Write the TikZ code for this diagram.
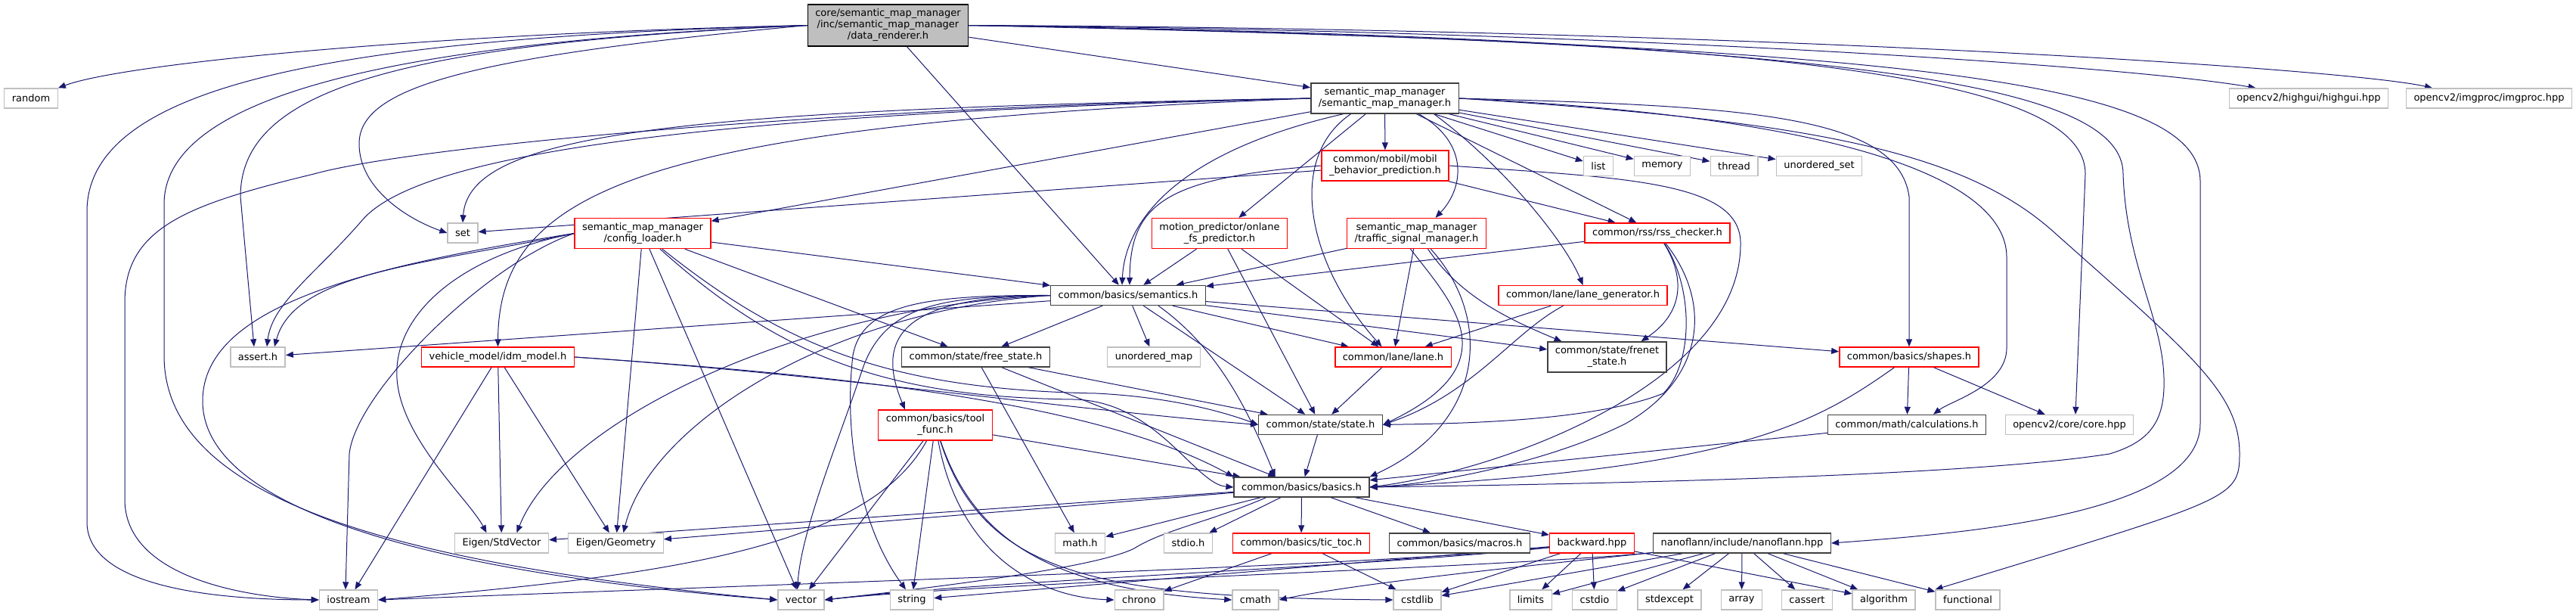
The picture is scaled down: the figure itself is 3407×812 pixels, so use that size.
\documentclass[tikz,border=0pt]{standalone}
\usepackage{fontspec}
\setmainfont{DejaVu Sans}
\usepackage{xcolor}
\usepackage{tikz}
\usetikzlibrary{arrows.meta}
\definecolor{edgeblue}{HTML}{191970}
\definecolor{extgray}{HTML}{BFBFBF}
\definecolor{docgray}{HTML}{404040}
\pgfdeclarelayer{edges}
\pgfsetlayers{edges,main}

\begin{document}
\begin{tikzpicture}[x=1pt,y=-1pt,
  base/.style={rectangle,font=\fontsize{13}{15}\selectfont,align=center,
    inner xsep=10pt,inner ysep=2pt,minimum height=26pt,line width=1.4pt,fill=white},
  ext/.style={base,draw=extgray},
  trunc/.style={base,draw=red},
  doc/.style={base,draw=docgray},
  root/.style={base,draw=black,fill=extgray},
  two/.style={minimum height=40pt},
  three/.style={minimum height=55pt},
  inc/.style={-{Triangle[length=10pt,width=8pt]},draw=edgeblue,line width=1pt}]
\useasboundingbox (0,0) rectangle (3407,812);
\node[root,three] (dr) at (1174.5,33.5) {core/semantic\_map\_manager\\/inc/semantic\_map\_manager\\/data\_renderer.h};
\node[ext] (random) at (41,130) {random};
\node[ext] (set) at (612,308) {set};
\node[trunc,two] (cfg) at (850,308.5) {semantic\_map\_manager\\/config\_loader.h};
\node[doc,two] (smm) at (1831.5,130) {semantic\_map\_manager\\/semantic\_map\_manager.h};
\node[trunc,two] (mobil) at (1832,219) {common/mobil/mobil\\\_behavior\_prediction.h};
\node[ext] (list) at (2114,219.5) {list};
\node[ext] (memory) at (2198.5,219.5) {memory};
\node[ext] (thread) at (2293.5,219.5) {thread};
\node[ext] (uset) at (2406,219.5) {unordered\_set};
\node[ext] (highgui) at (3053.5,130) {opencv2/highgui/highgui.hpp};
\node[ext] (imgproc) at (3292,130) {opencv2/imgproc/imgproc.hpp};
\node[trunc,two] (onlane) at (1613,308.5) {motion\_predictor/onlane\\\_fs\_predictor.h};
\node[trunc,two] (traffic) at (1873.5,308.5) {semantic\_map\_manager\\/traffic\_signal\_manager.h};
\node[trunc] (rss) at (2192,308) {common/rss/rss\_checker.h};
\node[doc] (sem) at (1492,390.5) {common/basics/semantics.h};
\node[trunc] (lanegen) at (2093.5,390.5) {common/lane/lane\_generator.h};
\node[ext] (assrt) at (341,472) {assert.h};
\node[trunc] (idm) at (658.5,472) {vehicle\_model/idm\_model.h};
\node[doc] (freest) at (1290.5,472) {common/state/free\_state.h};
\node[ext] (umap) at (1526,472) {unordered\_map};
\node[trunc] (lane) at (1842.5,472) {common/lane/lane.h};
\node[doc,two] (frenet) at (2125.5,472) {common/state/frenet\\\_state.h};
\node[trunc] (shapes) at (2525,472) {common/basics/shapes.h};
\node[trunc,two] (toolfunc) at (1237,562) {common/basics/tool\\\_func.h};
\node[doc] (state) at (1746.5,561.5) {common/state/state.h};
\node[doc] (calc) at (2522,561.5) {common/math/calculations.h};
\node[ext] (core) at (2737,561.5) {opencv2/core/core.hpp};
\node[doc] (basics) at (1721.5,644) {common/basics/basics.h};
\node[ext] (stdvec) at (663.5,718) {Eigen/StdVector};
\node[ext] (geom) at (814.5,718) {Eigen/Geometry};
\node[ext] (mathh) at (1428.5,718) {math.h};
\node[ext] (stdioh) at (1571.5,718) {stdio.h};
\node[trunc] (tictoc) at (1721,718) {common/basics/tic\_toc.h};
\node[doc] (macros) at (1930.5,718) {common/basics/macros.h};
\node[trunc] (backward) at (2105.5,718) {backward.hpp};
\node[doc] (nanoflann) at (2304,718) {nanoflann/include/nanoflann.hpp};
\node[ext] (iostream) at (461,793) {iostream};
\node[ext] (vector) at (1059.5,793) {vector};
\node[ext] (string) at (1206,793) {string};
\node[ext] (chrono) at (1506.5,793) {chrono};
\node[ext] (cmath) at (1660.5,793) {cmath};
\node[ext] (cstdlib) at (1874.5,793) {cstdlib};
\node[ext] (limits) at (2024.5,793) {limits};
\node[ext] (cstdio) at (2109,793) {cstdio};
\node[ext] (stdexcept) at (2208,793) {stdexcept};
\node[ext] (array) at (2303.5,793) {array};
\node[ext] (cassert) at (2390,793) {cassert};
\node[ext] (algorithm) at (2491.5,793) {algorithm};
\node[ext] (functional) at (2602.5,793) {functional};
\begin{pgfonlayer}{edges}
% data_renderer.h
\draw[inc] (dr.west) .. controls (550,45) and (160,85) .. (random.north east);
\draw[inc] (dr.west) .. controls (450,50) and (115,110) .. (115,280) -- (115,690) .. controls (115,780) and (300,793) .. (iostream.west);
\draw[inc] (dr.west) .. controls (550,55) and (217,120) .. (217,270) -- (217,470) .. controls (217,660) and (520,745) .. (vector.west);
\draw[inc] (dr.west) .. controls (520,58) and (318,120) .. (318,260) -- ([xshift=-5pt]assrt.north);
\draw[inc] (dr.west) .. controls (620,75) and (475,115) .. (475,190) .. controls (475,250) and (540,290) .. (set.west);
\draw[inc] (dr) -- (sem);
\draw[inc] (dr) -- (smm);
\draw[inc] (dr.east) .. controls (2100,40) and (2800,85) .. ([xshift=-70pt]highgui.north);
\draw[inc] (dr.east) .. controls (2300,38) and (3100,90) .. ([xshift=-75pt]imgproc.north);
\draw[inc] (dr.east) .. controls (2350,50) and (2758,100) .. (2758,230) -- ([xshift=8pt]core.north);
\draw[inc] (dr.east) .. controls (2450,55) and (2808,110) .. (2808,230) .. controls (2812,350) and (2860,420) .. (2862,500) .. controls (2864,560) and (2840,585) .. (2790,600) .. controls (2600,630) and (2100,640) .. (basics.east);
\draw[inc] (dr.east) .. controls (2550,60) and (2910,110) .. (2910,240) -- (2910,560) .. controls (2910,680) and (2600,705) .. (nanoflann.east);
% semantic_map_manager.h
\draw[inc] (smm.west) .. controls (1150,140) and (560,190) .. (415,230) .. controls (250,270) and (165,300) .. (165,400) -- (165,660) .. controls (165,765) and (330,790) .. (iostream.west);
\draw[inc] (smm.west) .. controls (900,145) and (620,175) .. (set.north);
\draw[inc] (smm.west) .. controls (950,150) and (560,200) .. (480,290) .. controls (420,360) and (360,400) .. ([xshift=12pt]assrt.north);
\draw[inc] (smm.west) .. controls (850,165) and (660,250) .. (idm.north);
\draw[inc] (smm) -- (cfg);
\draw[inc] ([xshift=-55pt]smm.south) .. controls (1560,200) and (1488,290) .. ([xshift=-8pt]sem.north);
\draw[inc] (smm) -- (mobil);
\draw[inc] (smm) -- (onlane);
\draw[inc] ([xshift=45pt]smm.south) .. controls (1945,190) and (1935,250) .. ([xshift=25pt]traffic.north);
\draw[inc] (smm) -- (rss);
\draw[inc] ([xshift=65pt]smm.south) .. controls (1990,220) and (2070,320) .. (lanegen.north);
\draw[inc] ([xshift=-45pt]smm.south) .. controls (1700,210) and (1730,350) .. ([xshift=-15pt]lane.north);
\draw[inc] (smm) -- (list);
\draw[inc] (smm) -- (memory);
\draw[inc] (smm) -- (thread);
\draw[inc] (smm) -- (uset);
\draw[inc] (smm.east) .. controls (2300,140) and (2510,150) .. (2525,260) -- (shapes.north);
\draw[inc] (smm.east) .. controls (2450,155) and (2654,240) .. (2654,340) -- (2654,460) .. controls (2654,510) and (2580,530) .. ([xshift=35pt]calc.north);
\draw[inc] (smm.east) .. controls (2400,160) and (2600,200) .. (2720,310) .. controls (2900,470) and (2962,520) .. (2962,600) .. controls (2962,660) and (2950,660) .. (functional.north west);
% mobil_behavior_prediction.h
\draw[inc] (mobil) -- (set);
\draw[inc] (mobil.west) .. controls (1540,235) and (1495,270) .. ([xshift=2pt]sem.north);
\draw[inc] (mobil) -- (rss);
\draw[inc] (mobil.east) .. controls (2150,235) and (2300,240) .. (2302,320) .. controls (2305,500) and (2000,620) .. (basics.east);
% onlane_fs_predictor.h
\draw[inc] (onlane) -- (sem);
\draw[inc] (onlane) -- (state);
\draw[inc] (onlane) -- (lane);
% traffic_signal_manager.h
\draw[inc] (traffic) -- (sem);
\draw[inc] (traffic) -- (lane);
\draw[inc] ([xshift=-8pt]traffic.south) .. controls (1920,400) and (2000,480) .. (state.east);
\draw[inc] (traffic) .. controls (1975,420) and (1965,560) .. (basics.north east);
\draw[inc] ([xshift=15pt]traffic.south) .. controls (1930,390) and (1990,420) .. ([xshift=-60pt]frenet.north);
% rss_checker.h
\draw[inc] (rss) -- (sem);
\draw[inc] (rss) .. controls (2225,360) and (2232,410) .. ([xshift=45pt]frenet.north);
\draw[inc] (rss) .. controls (2240,380) and (2240,480) .. (2200,520) .. controls (2100,560) and (1900,560) .. (state.east);
\draw[inc] (rss) .. controls (2265,400) and (2255,500) .. (2150,560) .. controls (2050,610) and (1900,640) .. (basics.east);
% lane_generator.h, lane.h, free_state.h, state.h
\draw[inc] (lanegen) -- (lane);
\draw[inc] (lanegen) .. controls (2000,440) and (1950,520) .. (state.east);
\draw[inc] (lane) -- (state);
\draw[inc] (freest) -- (state);
\draw[inc] (freest) -- (basics);
\draw[inc] (freest) -- (mathh);
\draw[inc] (state) -- (basics);
% semantics.h
\draw[inc] (sem) -- (assrt);
\draw[inc] (sem.west) .. controls (1050,405) and (740,560) .. ([xshift=20pt]stdvec.north);
\draw[inc] (sem.west) .. controls (1100,410) and (860,560) .. ([xshift=10pt]geom.north);
\draw[inc] (sem.west) .. controls (1250,392) and (1170,400) .. (1140,490) .. controls (1110,580) and (1060,700) .. ([xshift=-5pt]vector.north);
\draw[inc] (sem.west) .. controls (1230,390) and (1140,400) .. (1128,470) .. controls (1115,580) and (1140,700) .. ([xshift=-8pt]string.north);
\draw[inc] (sem.west) .. controls (1220,392) and (1150,430) .. ([xshift=-40pt]toolfunc.north);
\draw[inc] (sem) -- (freest);
\draw[inc] (sem) -- (umap);
\draw[inc] (sem) -- (state);
\draw[inc] ([xshift=40pt]sem.south) .. controls (1610,460) and (1650,540) .. ([xshift=-35pt]basics.north);
\draw[inc] (sem) -- (lane);
\draw[inc] (sem) -- (frenet);
\draw[inc] (sem) -- (shapes);
% shapes.h, calculations.h
\draw[inc] (shapes) -- (calc);
\draw[inc] (shapes) -- (core);
\draw[inc] (shapes) .. controls (2400,560) and (2300,620) .. (basics.east);
\draw[inc] (calc) -- (basics);
% config_loader.h
\draw[inc] (cfg) -- (sem);
\draw[inc] (cfg) -- (freest);
\draw[inc] (cfg) .. controls (1040,460) and (1180,515) .. (1450,520) .. controls (1550,525) and (1620,545) .. (state.west);
\draw[inc] (cfg) .. controls (1030,470) and (1170,525) .. (1420,528) .. controls (1530,530) and (1580,640) .. (basics.west);
\draw[inc] (cfg) -- (geom);
\draw[inc] (cfg) -- (vector);
\draw[inc] (cfg.west) .. controls (560,350) and (390,360) .. ([xshift=22pt]assrt.north);
\draw[inc] (cfg.west) .. controls (640,350) and (470,520) .. (462,600) -- ([xshift=-4pt]iostream.north);
\draw[inc] (cfg.west) .. controls (600,340) and (520,420) .. (525,500) .. controls (530,580) and (620,660) .. ([xshift=-20pt]stdvec.north);
\draw[inc] (cfg.west) .. controls (500,350) and (268,400) .. (268,530) .. controls (268,680) and (600,760) .. (vector.west);
% idm_model.h
\draw[inc] (idm) -- (iostream);
\draw[inc] (idm) -- (stdvec);
\draw[inc] (idm) -- (geom);
\draw[inc] (idm.east) .. controls (1100,495) and (1450,530) .. (basics.north west);
\draw[inc] (idm.east) .. controls (1100,495) and (1400,540) .. (state.west);
% tool_func.h
\draw[inc] (toolfunc) -- (basics);
\draw[inc] (toolfunc) .. controls (1150,720) and (900,760) .. (iostream.east);
\draw[inc] (toolfunc) -- (vector);
\draw[inc] (toolfunc) -- (string);
\draw[inc] (toolfunc) .. controls (1270,740) and (1380,790) .. (chrono.west);
\draw[inc] (toolfunc) .. controls (1290,720) and (1400,780) .. (cmath.west);
\draw[inc] (toolfunc) .. controls (1300,760) and (1450,790) .. (cstdlib.west);
% basics.h
\draw[inc] (basics) -- (stdvec);
\draw[inc] (basics) -- (geom);
\draw[inc] (basics) -- (mathh);
\draw[inc] (basics) -- (stdioh);
\draw[inc] (basics) -- (tictoc);
\draw[inc] (basics) -- (macros);
\draw[inc] (basics) -- (backward);
\draw[inc] ([xshift=-47pt]basics.south) .. controls (1600,690) and (1540,700) .. (1500,725) .. controls (1450,750) and (1250,775) .. (vector.east);
% tic_toc.h
\draw[inc] (tictoc) -- (chrono);
\draw[inc] (tictoc) -- (cstdlib);
% backward.hpp
\draw[inc] (backward) .. controls (1800,748) and (1200,766) .. (iostream.east);
\draw[inc] (backward) .. controls (1800,750) and (1300,768) .. (vector.east);
\draw[inc] (backward) -- (string);
\draw[inc] (backward) -- (cstdlib);
\draw[inc] (backward) -- (limits);
\draw[inc] (backward) -- (cstdio);
\draw[inc] (backward) -- (algorithm);
% nanoflann.hpp
\draw[inc] (nanoflann) .. controls (2000,750) and (1300,770) .. (vector.east);
\draw[inc] (nanoflann) .. controls (2050,745) and (1800,770) .. (cmath.east);
\draw[inc] (nanoflann) -- (cstdlib);
\draw[inc] (nanoflann) -- (limits);
\draw[inc] (nanoflann) -- (cstdio);
\draw[inc] (nanoflann) -- (stdexcept);
\draw[inc] (nanoflann) -- (array);
\draw[inc] (nanoflann) -- (cassert);
\draw[inc] (nanoflann) -- (algorithm);
\draw[inc] (nanoflann) -- (functional);
\end{pgfonlayer}
\end{tikzpicture}
\end{document}
